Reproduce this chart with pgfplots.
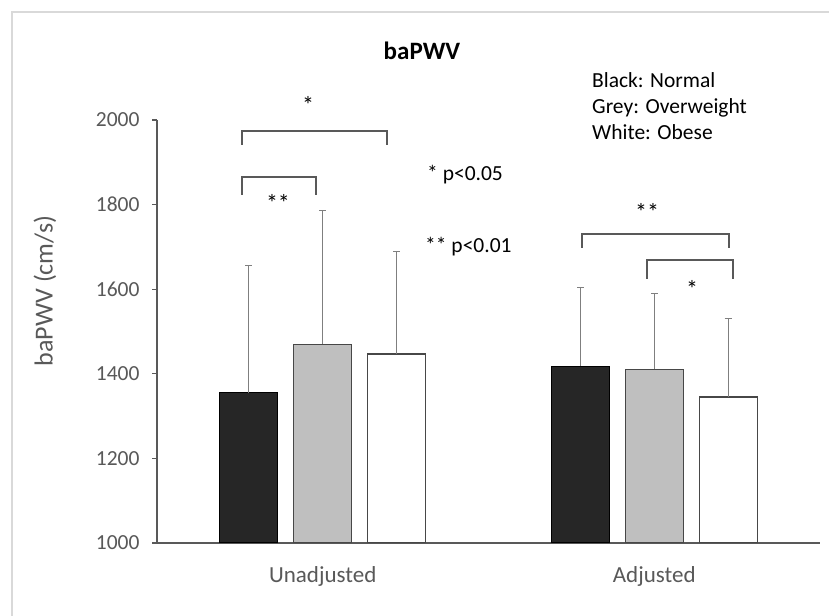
\documentclass[border=0pt]{standalone}
\usepackage{pgfplots}
\pgfplotsset{compat=1.18}
\usepackage{fontspec}
\setmainfont{Carlito}
\definecolor{axgray}{HTML}{595959}
\definecolor{framegray}{HTML}{D9D9D9}
\definecolor{barblack}{HTML}{262626}
\definecolor{bargrey}{HTML}{BFBFBF}
\definecolor{errgray}{HTML}{7F7F7F}
\newcommand{\fs}[1]{\fontsize{#1bp}{#1bp}\selectfont}
\begin{document}
\begin{tikzpicture}
\useasboundingbox (0,0) rectangle (829bp,616bp);
\fill[white] (0,0) rectangle (829bp,616bp);
\draw[framegray, line width=2bp] (12bp,0) -- (12bp,604bp) -- (829bp,604bp);
\begin{axis}[
  at={(157bp,73bp)}, anchor=south west, scale only axis,
  width=663bp, height=423bp,
  xmin=-0.5, xmax=1.5, ymin=1000, ymax=2000,
  ytick={1000,1200,1400,1600,1800,2000},
  xtick={0,1}, xticklabels={Unadjusted,Adjusted},
  axis x line*=bottom, axis y line*=left,
  axis line style={axgray, line width=1.5bp},
  tick align=outside, major tick length=5bp,
  ytick style={axgray, line width=1.2bp},
  xtick style={draw=none},
  /pgf/number format/assume math mode=true,
  /pgf/number format/1000 sep={},
  yticklabel style={font=\fs{21.5}, text=axgray, anchor=east, xshift=-9bp},
  xticklabel style={font=\fs{23}, text=axgray, anchor=base, yshift=-34bp},
  error bars/error bar style={errgray, line width=1bp},
  error bars/error mark options={errgray, line width=1bp, mark size=3.5bp, rotate=90},
]
% Normal (black)
\addplot[ybar, bar width=58bp, bar shift=0bp, fill=barblack, draw=black, line width=1.2bp,
  error bars/.cd, y dir=plus, y explicit]
  coordinates {(-0.2232,1355) +- (0,300) (0.7783,1418) +- (0,187)};
% Overweight (grey)
\addplot[ybar, bar width=58bp, bar shift=0bp, fill=bargrey, draw=axgray!80!black, line width=1.2bp,
  error bars/.cd, y dir=plus, y explicit]
  coordinates {(0,1470) +- (0,317) (1.0015,1411) +- (0,180)};
% Obese (white)
\addplot[ybar, bar width=58bp, bar shift=0bp, fill=white, draw=axgray!80!black, line width=1.2bp,
  error bars/.cd, y dir=plus, y explicit]
  coordinates {(0.2232,1447) +- (0,243) (1.2232,1345) +- (0,185)};
\end{axis}
\begin{scope}[x=1bp, y=-1bp, shift={(0bp,616bp)}]
  \node[font=\bfseries\fs{25}] at (422,51) {baPWV};
  \node[rotate=90, font=\fs{26}, text=axgray] at (45,291) {baPWV (cm/s)};
  \node[anchor=base west, inner sep=0, font=\fs{21.5}] at (592,88) {Black: Normal};
  \node[anchor=base west, inner sep=0, font=\fs{21.5}] at (592,114) {Grey: Overweight};
  \node[anchor=base west, inner sep=0, font=\fs{21.5}] at (592,140) {White: Obese};
  \node[anchor=west, inner sep=0, font=\fs{21.5}] at (427,175) {* p<0.05};
  \node[anchor=west, inner sep=0, font=\fs{21.5}] at (425,247) {** p<0.01};
  \draw[axgray, line width=1.3bp] (242,145) -- (242,131) -- (387,131) -- (387,145);
  \draw[axgray, line width=1.3bp] (242,195) -- (242,177) -- (316,177) -- (316,195);
  \draw[axgray, line width=1.3bp] (582,248) -- (582,234) -- (729,234) -- (729,248);
  \draw[axgray, line width=1.3bp] (647,279) -- (647,260) -- (733,260) -- (733,279);
  \node[font=\fs{24}] at (308,105) {*};
  \node[font=\fs{24}] at (278,203) {**};
  \node[font=\fs{24}] at (647,212) {**};
  \node[font=\fs{24}] at (692,289) {*};
\end{scope}
\end{tikzpicture}
\end{document}
